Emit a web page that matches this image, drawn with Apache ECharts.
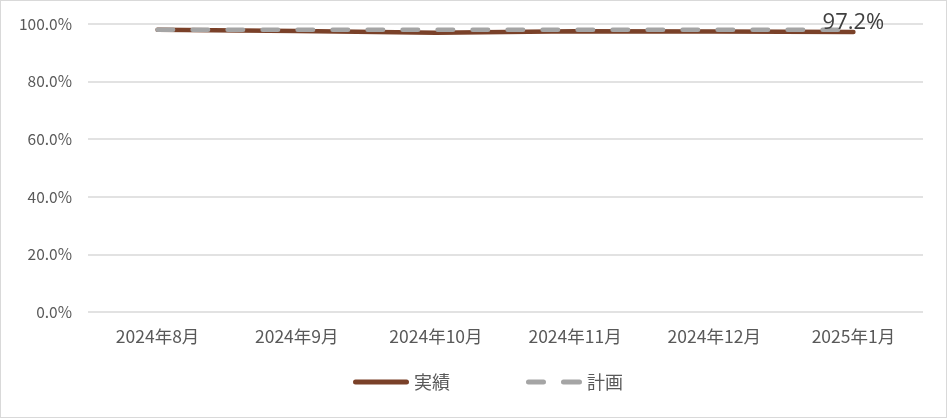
<!DOCTYPE html>
<html><head><meta charset="utf-8">
<script src="https://cdn.jsdelivr.net/npm/echarts@6/dist/echarts.min.js"></script>
<style>
html,body{margin:0;padding:0;background:#fff;}
#c{width:945px;height:416px;border:1px solid #d9d9d9;}
</style></head>
<body><div id="c"></div>
<script>
const categories = ['2024年8月','2024年9月','2024年10月','2024年11月','2024年12月','2025年1月'];
const actual = [98.0, 97.6, 97.0, 97.5, 97.4, 97.2];
const plan = [98.0, 98.0, 98.0, 98.0, 98.0, 98.0];
const yTicks = [0, 20, 40, 60, 80, 100];
const font = '"Noto Sans CJK JP","Noto Sans",sans-serif';
const actualData = actual.map((v,i)=> i===actual.length-1 ? {value:v,label:{show:true}} : v);
const chart = echarts.init(document.getElementById('c'));
chart.setOption({
  animation:false,
  grid:{left:87,right:23,top:23,bottom:105},
  xAxis:{type:'category',data:categories,boundaryGap:true,
    axisLine:{show:false},axisTick:{show:false},
    axisLabel:{color:'#595959',fontSize:17.5,fontFamily:font,margin:16}},
  yAxis:{type:'value',min:yTicks[0],max:yTicks[yTicks.length-1],interval:20,
    axisLine:{show:false},axisTick:{show:false},
    splitLine:{lineStyle:{color:'#d9d9d9',width:1.5}},
    axisLabel:{color:'#595959',fontSize:15.5,fontFamily:font,margin:16,formatter:v=>v.toFixed(1)+'%'}},
  legend:{bottom:21,left:347,itemGap:76,itemWidth:56,itemHeight:5,
    textStyle:{color:'#595959',fontSize:18,fontFamily:font},
    data:[
      {name:'実績',icon:'path://M2.5,0H53.5A2.5,2.5,0,0,1,53.5,5H2.5A2.5,2.5,0,0,1,2.5,0Z'},
      {name:'計画',icon:'path://M2.5,0H17.5A2.5,2.5,0,0,1,17.5,5H2.5A2.5,2.5,0,0,1,2.5,0Z M37.5,0H53.5A2.5,2.5,0,0,1,53.5,5H37.5A2.5,2.5,0,0,1,37.5,0Z'}
    ]},
  series:[
    {name:'実績',type:'line',data:actualData,symbol:'circle',symbolSize:0,
      lineStyle:{color:'#7a4129',width:4.5,cap:'round'},itemStyle:{color:'#7a4129'},
      label:{show:false,formatter:p=>Number(p.value).toFixed(1)+'%',
        position:'top',distance:-2,color:'#404040',fontSize:22,fontFamily:'"Open Sans","Noto Sans",sans-serif'}},
    {name:'計画',type:'line',data:plan,symbol:'none',
      lineStyle:{color:'#a5a5a5',width:4.5,type:[15.5,19.5],cap:'round'},itemStyle:{color:'#a5a5a5'}}
  ]
});
</script></body></html>
